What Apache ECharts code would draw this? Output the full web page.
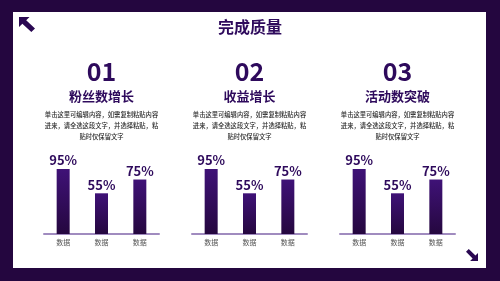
<!DOCTYPE html>
<html><head><meta charset="utf-8">
<script src="https://cdn.jsdelivr.net/npm/echarts@6/dist/echarts.min.js"></script>
<style>html,body{margin:0;padding:0;background:#24063f}#c{width:500px;height:281px}</style>
</head><body><div id="c"></div>
<script>
const pageTitle = '完成质量';
const numbers = ['01', '02', '03'];
const subtitles = ['粉丝数增长', '收益增长', '活动数突破'];
const descLines = ['单击这里可编辑内容，如需复制粘贴内容', '进来，请全选这段文字，并选择粘贴，粘', '贴时仅保留文字'];
const categories = ['数据', '数据', '数据'];
const values1 = [95, 55, 75];
const values2 = [95, 55, 75];
const values3 = [95, 55, 75];
const seriesValues = [values1, values2, values3];

const FONT = '"Noto Sans CJK SC", "Noto Sans", sans-serif';
const PURPLE = '#2e0a5c';
const chart = echarts.init(document.getElementById('c'), null, {renderer: 'canvas'});

const colLeft = [44, 192, 340];
const colW = 115;
const centers = colLeft.map(l => l + colW / 2);

function arrow(x, y, w, h, flip) {
  let pts = [[0,0],[0.66,0],[0.45,0.21],[1,0.77],[0.77,1],[0.21,0.45],[0,0.66]];
  if (flip) pts = pts.map(p => [1 - p[0], 1 - p[1]]);
  return {type: 'polygon', shape: {points: pts.map(p => [x + p[0] * w, y + p[1] * h])}, style: {fill: '#2a0852'}};
}

const graphic = [
  {type: 'rect', shape: {x: 0, y: 0, width: 500, height: 281}, style: {fill: '#24063f'}, z: -10},
  {type: 'rect', shape: {x: 13, y: 12, width: 473, height: 256}, style: {fill: '#ffffff'}, z: -9},
  arrow(19, 17, 16, 15, false),
  arrow(466, 249, 12, 12, true),
  {type: 'text', x: 250, y: 27, style: {text: pageTitle, font: 'bold 16px ' + FONT, fill: PURPLE, align: 'center', verticalAlign: 'middle'}}
];
centers.forEach((cx, i) => {
  graphic.push({type: 'text', x: cx, y: 71, style: {text: numbers[i], font: 'bold 25px ' + FONT, fill: PURPLE, align: 'center', verticalAlign: 'middle'}});
  graphic.push({type: 'text', x: cx, y: 96.5, style: {text: subtitles[i], font: 'bold 13px ' + FONT, fill: PURPLE, align: 'center', verticalAlign: 'middle'}});
  const ly = [114.5, 125.8, 137];
  descLines.forEach((t, j) => {
    graphic.push({type: 'text', x: cx, y: ly[j], style: {text: t, font: '500 6.3px ' + FONT, fill: '#2b2b2b', align: 'center', verticalAlign: 'middle'}});
  });
});

const grids = [], xAxes = [], yAxes = [], series = [];
colLeft.forEach((l, i) => {
  grids.push({left: l, width: colW, top: 165, height: 69});
  xAxes.push({type: 'category', gridIndex: i, data: categories,
    axisLine: {onZero: false, lineStyle: {color: '#a08bbf', width: 2}},
    axisTick: {show: false},
    axisLabel: {color: '#555555', fontSize: 7, fontFamily: FONT, margin: 5}});
  yAxes.push({type: 'log', gridIndex: i, min: 22, max: 104, show: false, splitLine: {show: false}});
  series.push({type: 'bar', xAxisIndex: i, yAxisIndex: i, data: seriesValues[i], barWidth: 13, clip: true,
    itemStyle: {color: new echarts.graphic.LinearGradient(0, 0, 0, 1, [{offset: 0, color: '#3f1277'}, {offset: 1, color: '#25073f'}])},
    label: {show: true, position: 'top', distance: 2, formatter: '{c}%', color: PURPLE, fontSize: 13, fontWeight: 'bold', fontFamily: FONT}});
});

chart.setOption({animation: false, backgroundColor: '#24063f', graphic, grid: grids, xAxis: xAxes, yAxis: yAxes, series});
</script></body></html>
